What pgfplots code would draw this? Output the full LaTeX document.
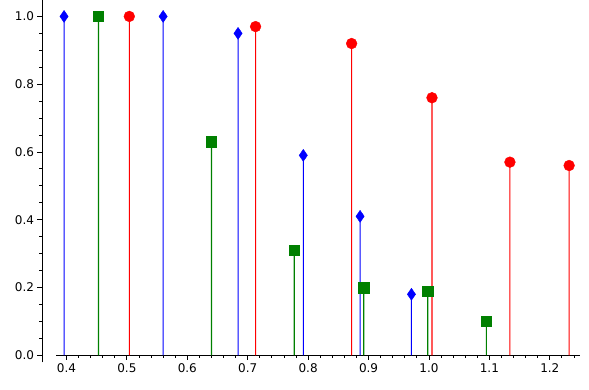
\documentclass[border=0pt]{standalone}
\usepackage{fontspec}
\setmainfont{DejaVu Sans}
\usepackage{pgfplots}
\pgfplotsset{compat=1.18}
\definecolor{mpgreen}{rgb}{0,0.5,0}
\pgfplotstableread{
x y
0.396 1.0
0.560 1.0
0.684 0.95
0.792 0.59
0.886 0.41
0.971 0.18
}\blue
\pgfplotstableread{
x y
0.453 1.0
0.640 0.63
0.777 0.31
0.892 0.20
0.998 0.19
1.095 0.10
}\green
\pgfplotstableread{
x y
0.504 1.0
0.713 0.97
0.872 0.92
1.005 0.76
1.134 0.57
1.232 0.56
}\red
\begin{document}
\begin{tikzpicture}[x=1pt,y=1pt]
\useasboundingbox (0,0) rectangle (589,389);
\begin{axis}[
  at={(42pt,26.7pt)}, anchor=south west,
  scale only axis, width=538pt, height=361.8pt,
  xmin=0.3595, xmax=1.25, ymin=-0.0207, ymax=1.047,
  axis x line=middle, axis y line=left,
  axis line style={-, line width=0.9pt, black},
  x axis line style={shorten <=14pt},
  hide obscured y ticks=false, hide obscured x ticks=false,
  xtick={0.4,0.5,0.6,0.7,0.8,0.9,1.0,1.1,1.2},
  ytick={0,0.2,0.4,0.6,0.8,1.0},
  minor xtick={0.42,0.44,0.46,0.48,0.52,0.54,0.56,0.58,0.62,0.64,0.66,0.68,0.72,0.74,0.76,0.78,0.82,0.84,0.86,0.88,0.92,0.94,0.96,0.98,1.02,1.04,1.06,1.08,1.12,1.14,1.16,1.18,1.22,1.24},
  minor ytick={0.05,0.1,0.15,0.25,0.3,0.35,0.45,0.5,0.55,0.65,0.7,0.75,0.85,0.9,0.95},
  tick align=outside,
  major tick length=4.5pt, minor tick length=2.5pt,
  every tick/.style={black, line width=0.9pt},
  tick label style={font=\fontsize{12}{14}\selectfont},
  xticklabel style={/pgf/number format/.cd, fixed, fixed zerofill, precision=1},
  yticklabel style={/pgf/number format/.cd, fixed, fixed zerofill, precision=1},
  /pgf/number format/assume math mode=true,
  clip=false,
]
% stems
\addplot[ybar, bar width=1.1pt, bar shift=0pt, fill=blue, draw=none] table {\blue};
\addplot[ybar, bar width=1.1pt, bar shift=0pt, fill=mpgreen, draw=none] table {\green};
\addplot[ybar, bar width=1.1pt, bar shift=0pt, fill=red, draw=none] table {\red};
% markers
\addplot[only marks, mark=diamond*, mark size=6pt,
  mark options={xscale=0.92, fill=blue, draw=blue}] table {\blue};
\addplot[only marks, mark=square*, mark size=5.2pt,
  mark options={fill=mpgreen, draw=mpgreen}] table {\green};
\addplot[only marks, mark=*, mark size=5.4pt,
  mark options={fill=red, draw=red}] table {\red};
\end{axis}
\end{tikzpicture}
\end{document}
